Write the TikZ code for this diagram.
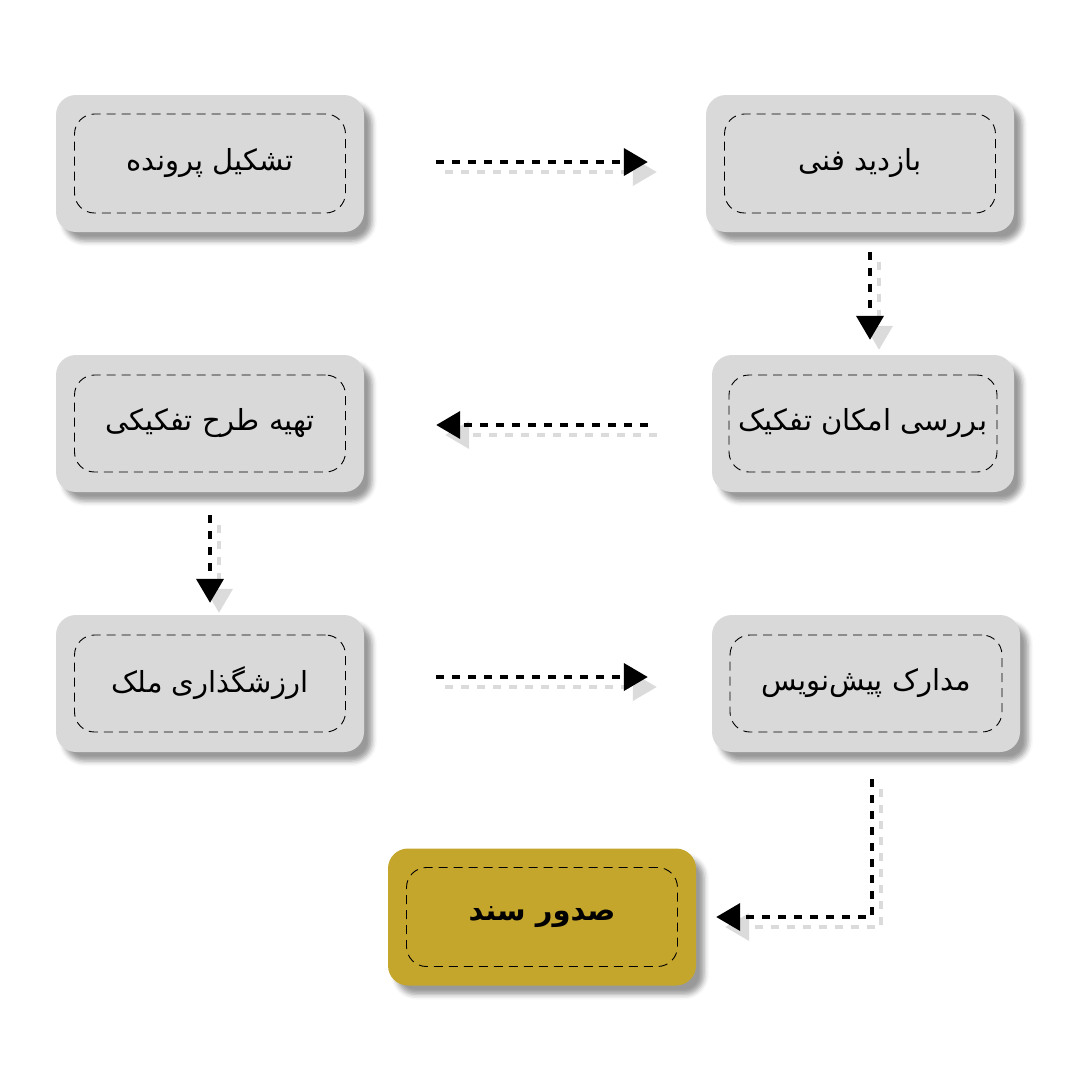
\documentclass[tikz,border=0pt]{standalone}
\usepackage{fontspec}
\newfontfamily\arabicfont[Script=Arabic]{DejaVu Sans}
\TeXXeTstate=1
\usetikzlibrary{arrows.meta,shadows.blur,calc}
\definecolor{boxgray}{HTML}{D9D9D9}
\definecolor{goldfill}{HTML}{C5A62C}
\tikzset{
  outerbox/.style={draw=none, fill=boxgray, rounded corners=20pt, inner sep=0pt,
    blur shadow={shadow xshift=8pt, shadow yshift=-9pt, shadow blur radius=5pt, shadow opacity=40}},
  innerbox/.style={draw=black, dash pattern=on 9pt off 6pt, line width=0.9pt, rounded corners=20pt,
    inner sep=0pt, font=\arabicfont\fontsize{29}{34}\selectfont, text=black},
  flow/.style={line width=4pt, dash pattern=on 8pt off 8pt, -{Triangle[length=24pt,width=27pt]}},
  flowshadow/.style={flow, draw=black!14, transform canvas={xshift=9pt, yshift=-10pt}},
}
\begin{document}
\begin{tikzpicture}[x=1pt,y=-1pt]
\useasboundingbox (0,0) rectangle (1080,1080);
% outer boxes
\node[outerbox, minimum width=308pt, minimum height=137pt] (b1) at (210,163.5) {};
\node[outerbox, minimum width=308pt, minimum height=137pt] (b2) at (860,163.5) {};
\node[outerbox, minimum width=302pt, minimum height=137pt] (b3) at (863,423.5) {};
\node[outerbox, minimum width=308pt, minimum height=137pt] (b4) at (210,423.5) {};
\node[outerbox, minimum width=308pt, minimum height=137pt] (b5) at (210,683.5) {};
\node[outerbox, minimum width=308pt, minimum height=137pt] (b6) at (866,683.5) {};
\node[outerbox, fill=goldfill, minimum width=308pt, minimum height=137pt] (b7) at (542,917) {};
% inner dashed boxes with text
\node[innerbox, minimum width=271pt, minimum height=99pt] (t1) at (b1) {\beginR تشکیل پرونده\endR};
\node[innerbox, minimum width=271pt, minimum height=99pt] (t2) at (b2) {\beginR بازدید فنی\endR};
\node[innerbox, minimum width=268pt, minimum height=97pt] (t3) at (b3) {\beginR بررسی امکان تفکیک\endR};
\node[innerbox, minimum width=271pt, minimum height=97pt] (t4) at (b4) {\beginR تهیه طرح تفکیکی\endR};
\node[innerbox, minimum width=271pt, minimum height=97pt] (t5) at (b5) {\beginR ارزشگذاری ملک\endR};
\node[innerbox, minimum width=272pt, minimum height=97pt] (t6) at (b6) {\beginR مدارک پیش‌نویس\endR};
\node[innerbox, minimum width=271pt, minimum height=99pt, font=\arabicfont\bfseries\fontsize{29}{34}\selectfont] (t7) at (b7) {\beginR صدور سند\endR};
% connector coordinates
\coordinate (a1s) at ($(b1.east)+(72,-1.5)$);
\coordinate (a1e) at ($(b2.west)+(-58,-1.5)$);
\coordinate (a2s) at ($(b2.south)+(10,20)$);
\coordinate (a2e) at ($(b3.north)+(7,-15)$);
\coordinate (a3s) at ($(b3.west)+(-64,1.5)$);
\coordinate (a3e) at ($(b4.east)+(72,1.5)$);
\coordinate (a4s) at ($(b4.south)+(0,23)$);
\coordinate (a4e) at ($(b5.north)+(0,-12)$);
\coordinate (a5s) at ($(b5.east)+(72,-6.5)$);
\coordinate (a5e) at ($(b6.west)+(-64,-6.5)$);
\coordinate (a6s) at ($(b6.south)+(6,27)$);
\coordinate (a6e) at ($(b7.east)+(20,0)$);
% shadows of connectors
\draw[flowshadow] (a1s) -- (a1e);
\draw[flowshadow] (a2s) -- (a2e);
\draw[flowshadow] (a3s) -- (a3e);
\draw[flowshadow] (a4s) -- (a4e);
\draw[flowshadow] (a5s) -- (a5e);
\draw[flowshadow] (a6s) |- (a6e);
% connectors
\draw[flow] (a1s) -- (a1e);
\draw[flow] (a2s) -- (a2e);
\draw[flow] (a3s) -- (a3e);
\draw[flow] (a4s) -- (a4e);
\draw[flow] (a5s) -- (a5e);
\draw[flow] (a6s) |- (a6e);
\end{tikzpicture}
\end{document}
